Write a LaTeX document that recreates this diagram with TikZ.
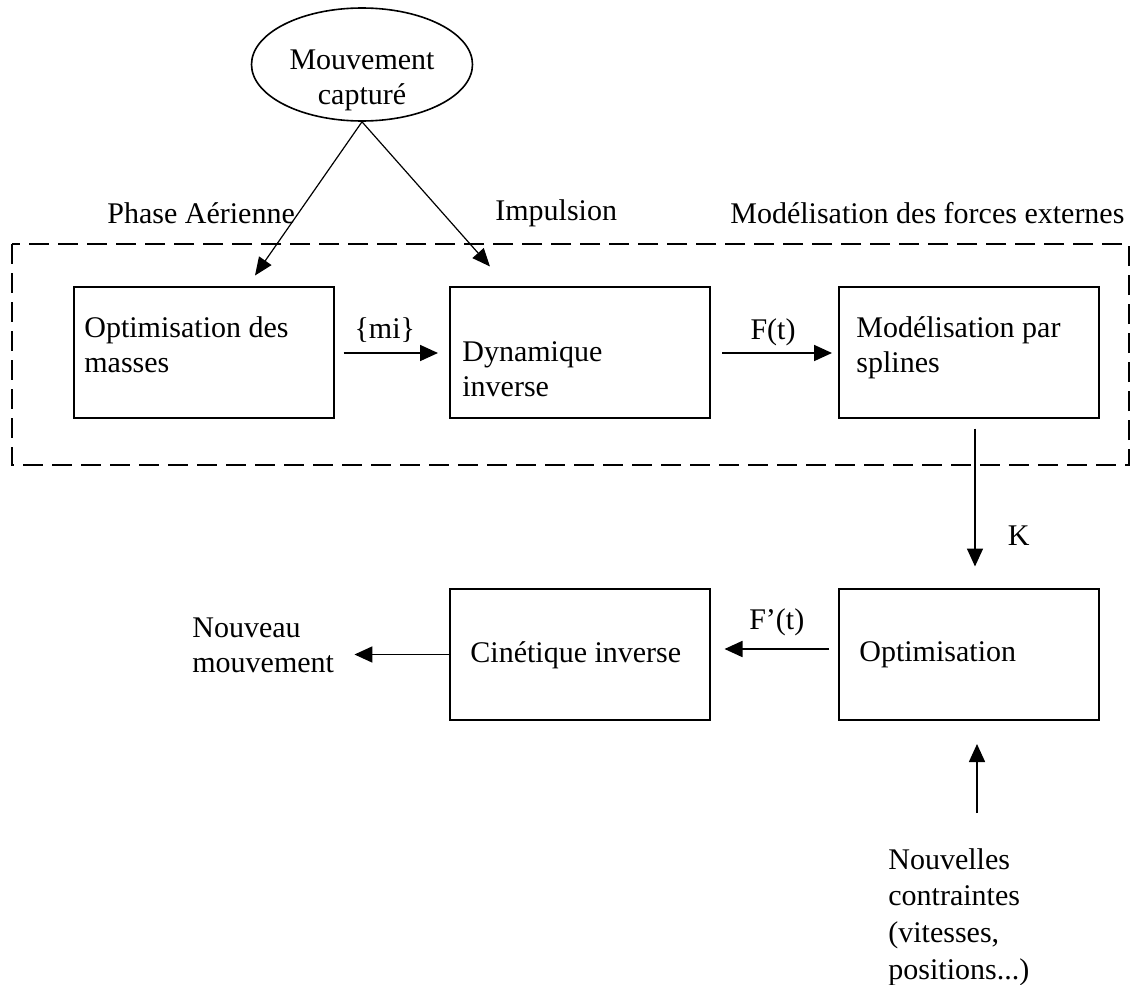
\documentclass[tikz,border=0pt]{standalone}
\usepackage{fontspec}
\setmainfont{Liberation Serif}
\usetikzlibrary{arrows.meta,shapes.geometric,calc}
\begin{document}
\begin{tikzpicture}[x=0.5pt,y=-0.5pt,
  box/.style={draw, line width=1pt, minimum width=130pt, minimum height=65.5pt, inner sep=0pt},
  txt/.style={font=\fontsize{15pt}{17.5pt}\selectfont, inner sep=0pt, align=left},
  lab/.style={font=\fontsize{15pt}{17.5pt}\selectfont, inner sep=0pt},
  arr/.style={-{Triangle[length=9pt,width=8pt]}, line width=0.9pt},
  thinarr/.style={-{Triangle[length=9pt,width=7.5pt]}, line width=0.6pt},
  groupbox/.style={draw, line width=1.2pt, dash pattern=on 10pt off 4.5pt}]
\fill[white] (0,0) rectangle (1142,985);
\useasboundingbox (0,0) rectangle (1142,985);

% captured motion
\node[draw, ellipse, line width=0.8pt, minimum width=110.5pt, minimum height=56.5pt, inner sep=0pt] (ell) at (362,64.5) {};
\node[txt, align=center] (ellt) at (362,80) {Mouvement\\capturé};

% phase labels
\node[lab, anchor=west] (lphase) at (107,213) {Phase Aérienne};
\node[lab, anchor=west] (limp) at (495,213) {Impulsion};
\node[lab, anchor=west] (lmod) at (730,213) {Modélisation des forces externes};

% dashed group
\draw[groupbox] (12,244) rectangle (1129,465);

% boxes
\node[box] (b1) at (203.5,352) {};
\node[box] (b2) at (580,352) {};
\node[box] (b3) at (969,352) {};
\node[box] (b4) at (579.5,654.5) {};
\node[box] (b5) at (969,654.5) {};

\node[txt, anchor=west] (t1) at (84,344.5) {Optimisation des\\masses};
\node[txt, anchor=west] (t2) at (462,369.5) {Dynamique\\inverse};
\node[txt, anchor=west] (t3) at (856,348) {Modélisation par\\splines};
\node[txt, anchor=west] (t4) at (470,655) {Cinétique inverse};
\node[txt, anchor=west] (t5) at (859,655) {Optimisation};

\node[txt, anchor=west] (nm) at (192,645) {Nouveau\\mouvement};
\node[txt, anchor=west, font=\fontsize{15pt}{18.3pt}\selectfont] (nc) at (888,917) {Nouvelles\\contraintes\\(vitesses,\\positions...)};

% connectors
\draw[thinarr] (ell.south) -- ([xshift=25.75pt,yshift=5pt]b1.north);
\draw[thinarr] (ell.south) -- ([xshift=-45pt,yshift=9.5pt]b2.north);

\draw[arr] ([xshift=4.5pt,yshift=-0.5pt]b1.east) -- node[lab, above=5pt, xshift=-3pt]{\{mi\}} ([xshift=-5.5pt,yshift=-0.5pt]b2.west);
\draw[arr] ([xshift=5.5pt,yshift=-0.5pt]b2.east) -- node[lab, above=3pt, xshift=-2pt]{F(t)} ([xshift=-3pt,yshift=-0.5pt]b3.west);
\draw[arr, line width=0.8pt] ([xshift=3pt,yshift=-5pt]b3.south) -- node[lab, pos=0.78, right=16pt]{K} ([xshift=3pt,yshift=10.75pt]b5.north);
\draw[arr] ([xshift=-4.5pt,yshift=2.75pt]b5.west) -- node[lab, above=6pt]{F’(t)} ([xshift=7pt,yshift=2.75pt]b4.east);
\draw[arr] (b4.west) -- ($(b4.west -| nm.east)+(20,0)$);

\coordinate (u0) at (977,813);
\draw[arr, line width=0.8pt] (u0) -- ($(u0 |- b5.south)+(0,23)$);
\end{tikzpicture}
\end{document}
